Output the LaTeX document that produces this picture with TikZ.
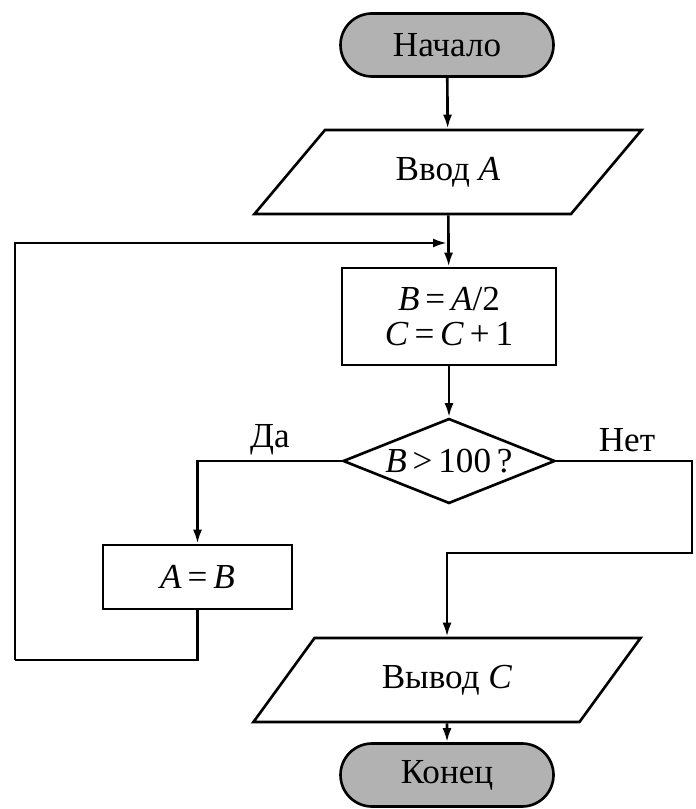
\documentclass[tikz,border=0pt]{standalone}
\usepackage{fontspec}
\setmainfont{Liberation Serif}
\usepackage{tikz}
\usetikzlibrary{shapes.geometric, shapes.misc, arrows.meta, positioning, calc}

\begin{document}
\begin{tikzpicture}[
  font=\fontsize{10}{10}\selectfont,
  line width=0.75pt,
  term/.style={draw, rounded rectangle, fill=gray!60, minimum width=21.3mm,
               minimum height=6.3mm, inner sep=0pt},
  io/.style={draw, trapezium, trapezium left angle=45, trapezium right angle=135,
             trapezium stretches=true, minimum width=38.8mm, minimum height=8.4mm,
             inner sep=0pt},
  proc/.style={draw, rectangle, minimum width=21.4mm, minimum height=9.7mm,
               align=center, inner sep=0pt},
  cond/.style={draw, diamond, aspect=2.5, minimum width=21.2mm, minimum height=8.5mm,
               inner sep=0pt},
  flow/.style={-{Latex[length=1.4mm, width=0.9mm]}},
  lbl/.style={font=\fontsize{10}{10}\selectfont},
]
\useasboundingbox (0,0) rectangle (6.95,8.09);

% Main column
\node[term] (start) at (4.47,7.64) {Начало};
\node[io]   (inp)   at (4.48,6.37) {Ввод \textit{A}};
\coordinate (jn) at (4.47,5.66);
\node[proc] (calc)  at (4.49,4.925) {\textit{B}\,=\,\textit{A}/2\\\textit{C}\,=\,\textit{C}\,+\,1};
\node[cond] (test)  at (4.49,3.48) {\textit{B}\,>\,100\,?};
\node[proc, minimum width=18.9mm, minimum height=6.4mm] (asg) at (1.975,2.32) {\textit{A}\,=\,\textit{B}};
\node[io]   (outp)  at (4.47,1.29) {Вывод \textit{C}};
\node[term] (stop)  at (4.47,0.34) {Конец};

% Loop corners
\coordinate (loopL) at (0.15,1.49);
\coordinate (netR)  at (6.92,2.56);

% Connectors
\draw[flow] (start) -- (inp);
\draw[flow] (inp) -- (calc);
\draw[flow] (calc) -- (test);
\draw[flow] (test.west) -| (asg.north);
\draw (asg.south) |- (loopL);
\draw[flow] (loopL) |- (jn);
\draw[flow] (test.east) -| (netR) -| (outp.north);
\draw[flow] (outp) -- (stop);

% Branch labels
\node[lbl] (yes) at (2.70,3.69) {Да};
\node[lbl] (no)  at (6.27,3.69) {Нет};
\end{tikzpicture}
\end{document}
